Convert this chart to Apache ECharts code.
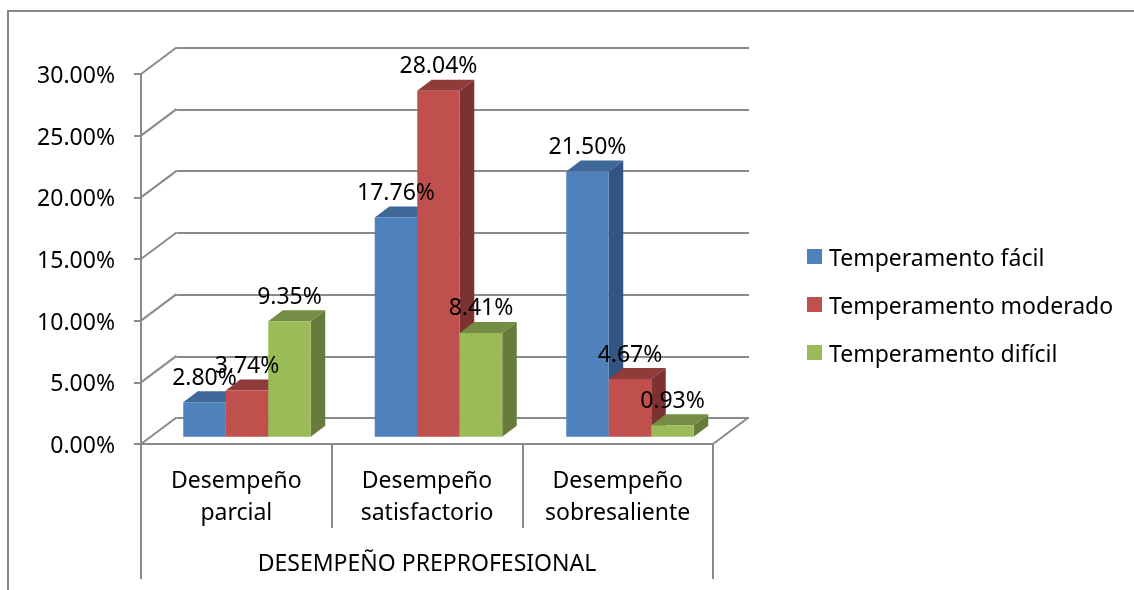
<!DOCTYPE html>
<html>
<head>
<meta charset="utf-8">
<script src="https://cdn.jsdelivr.net/npm/echarts@6/dist/echarts.min.js"></script>
<style>
  html, body { margin: 0; padding: 0; background: #fff; }
  #chart { width: 1134px; height: 590px; }
</style>
</head>
<body>
<div id="chart"></div>
<script>
const categories = ['Desempeño\nparcial', 'Desempeño\nsatisfactorio', 'Desempeño\nsobresaliente'];
const groupTitle = ['DESEMPEÑO PREPROFESIONAL'];
const seriesNames = ['Temperamento fácil', 'Temperamento moderado', 'Temperamento difícil'];
const facil = [2.80, 17.76, 21.50];
const moderado = [3.74, 28.04, 4.67];
const dificil = [9.35, 8.41, 0.93];
const tickValues = [0, 5, 10, 15, 20, 25, 30];

const FONT = '"Noto Sans"';
const FONT_SIZE = 23;
const GRAY = '#8a8a8a';
const BAR_W = 42.5;
const DEPTH_X = 14.5;
const DEPTH_Y = 11;
const WALL_X = 35.5;
const WALL_Y = 26.5;

// front face, top and right side of one oblique bar
function barItem(colors, slot) {
    return function (params, api) {
        const base = api.coord([api.value(0), 0]);
        const top = api.coord([api.value(0), api.value(1)]);
        const x0 = base[0] + (slot - 1.5) * BAR_W;
        const x1 = x0 + BAR_W;
        const yB = base[1];
        const yT = top[1];
        return {
            type: 'group',
            children: [
                { type: 'polygon', shape: { points: [[x1, yB], [x1 + DEPTH_X, yB - DEPTH_Y], [x1 + DEPTH_X, yT - DEPTH_Y], [x1, yT]] }, style: { fill: colors[2] } },
                { type: 'polygon', shape: { points: [[x0, yT], [x0 + DEPTH_X, yT - DEPTH_Y], [x1 + DEPTH_X, yT - DEPTH_Y], [x1, yT]] }, style: { fill: colors[1] } },
                { type: 'rect', shape: { x: x0, y: yT, width: BAR_W, height: yB - yT }, style: { fill: colors[0] } }
            ]
        };
    };
}

function barSeries(name, values, colors, slot) {
    return {
        name: name,
        type: 'custom',
        xAxisIndex: 3,
        yAxisIndex: 2,
        z: 3 + slot,
        itemStyle: { color: colors[0] },
        renderItem: barItem(colors, slot),
        data: values.map(function (v, i) { return [i, v]; })
    };
}

function labelSeries(values, slot) {
    return {
        type: 'custom',
        xAxisIndex: 3,
        yAxisIndex: 2,
        z: 10,
        silent: true,
        renderItem: function (params, api) {
            const p = api.coord([api.value(0), api.value(1)]);
            return {
                type: 'text',
                x: p[0] + (slot - 1) * BAR_W,
                y: p[1] - 24,
                style: {
                    text: api.value(1).toFixed(2) + '%',
                    fill: '#000',
                    font: FONT_SIZE + 'px ' + FONT,
                    textAlign: 'center',
                    textVerticalAlign: 'middle'
                }
            };
        },
        data: values.map(function (v, i) { return [i, v]; })
    };
}

const chart = echarts.init(document.getElementById('chart'));
const wallData = tickValues.map(function (v) { return [0, v, 0]; });
wallData.push([2, 0, 1]); // floor edge on the right

const option = {
    animation: false,
    backgroundColor: '#fff',
    textStyle: { fontFamily: FONT },
    graphic: [
        { type: 'polyline', shape: { points: [[8, 590], [8, 11], [1134, 11]] }, style: { stroke: '#868686', lineWidth: 2, fill: null } }
    ],
    legend: {
        orient: 'vertical',
        left: 802,
        top: 237,
        itemWidth: 15,
        itemHeight: 15,
        itemGap: 19,
        icon: 'rect',
        data: seriesNames,
        formatter: function (name) { return '{a|' + name + '}'; },
        textStyle: {
            rich: {
                a: { fontFamily: FONT, fontSize: FONT_SIZE, lineHeight: 26, color: '#000', padding: [6, 0, 0, 2] }
            }
        }
    },
    grid: [
        { left: 141, top: 74, width: 572, height: 370 },      // front plane
        { left: 176.5, top: 47.5, width: 572.5, height: 370.5 }, // back wall
        { left: 151.25, top: 66.5, width: 574.5, height: 370.2 } // plane of the bars
    ],
    xAxis: [
        {
            type: 'category',
            gridIndex: 0,
            data: categories,
            axisLine: { lineStyle: { color: GRAY, width: 2 } },
            axisTick: { show: true, length: 84, lineStyle: { color: GRAY, width: 2 } },
            axisLabel: { color: '#000', fontFamily: FONT, fontSize: FONT_SIZE, lineHeight: 32, margin: 21, interval: 0 }
        },
        {
            type: 'category',
            gridIndex: 0,
            position: 'bottom',
            data: groupTitle,
            axisLine: { show: false },
            axisTick: { show: true, length: 135, lineStyle: { color: GRAY, width: 2 } },
            axisLabel: { color: '#000', fontFamily: FONT, fontSize: FONT_SIZE, margin: 109 }
        },
        { type: 'category', gridIndex: 1, data: categories, show: false },
        { type: 'category', gridIndex: 2, data: categories, show: false }
    ],
    yAxis: [
        {
            type: 'value',
            gridIndex: 0,
            min: 0,
            max: 30,
            interval: 5,
            axisLine: { show: true, lineStyle: { color: GRAY, width: 2 } },
            axisTick: { show: true, length: 7, lineStyle: { color: GRAY, width: 2 } },
            splitLine: { show: false },
            axisLabel: {
                color: '#000',
                fontFamily: FONT,
                fontSize: FONT_SIZE,
                margin: 26,
                verticalAlign: 'top',
                lineHeight: 5,
                formatter: function (v) { return v.toFixed(2) + '%'; }
            }
        },
        {
            type: 'value',
            gridIndex: 1,
            min: 0,
            max: 30,
            interval: 5,
            axisLine: { show: false },
            axisTick: { show: false },
            axisLabel: { show: false },
            splitLine: { show: true, lineStyle: { color: GRAY, width: 2 } }
        },
        { type: 'value', gridIndex: 2, min: 0, max: 30, interval: 5, show: false, splitLine: { show: false } }
    ],
    series: [
        {
            type: 'custom',
            xAxisIndex: 0,
            yAxisIndex: 0,
            z: 1,
            silent: true,
            renderItem: function (params, api) {
                const y = api.coord([0, api.value(1)])[1];
                const x = api.value(2) ? params.coordSys.x + params.coordSys.width : params.coordSys.x;
                return {
                    type: 'line',
                    shape: { x1: x, y1: y, x2: x + WALL_X, y2: y - WALL_Y },
                    style: { stroke: GRAY, lineWidth: 2 }
                };
            },
            data: wallData
        },
        barSeries(seriesNames[0], facil, ['#4f81bd', '#3f6797', '#345581'], 0),
        barSeries(seriesNames[1], moderado, ['#c0504d', '#8e3b39', '#7b3230'], 1),
        barSeries(seriesNames[2], dificil, ['#9bbb59', '#748c43', '#677c3b'], 2),
        labelSeries(facil, 0),
        labelSeries(moderado, 1),
        labelSeries(dificil, 2)
    ]
};
chart.setOption(option);
</script>
</body>
</html>
